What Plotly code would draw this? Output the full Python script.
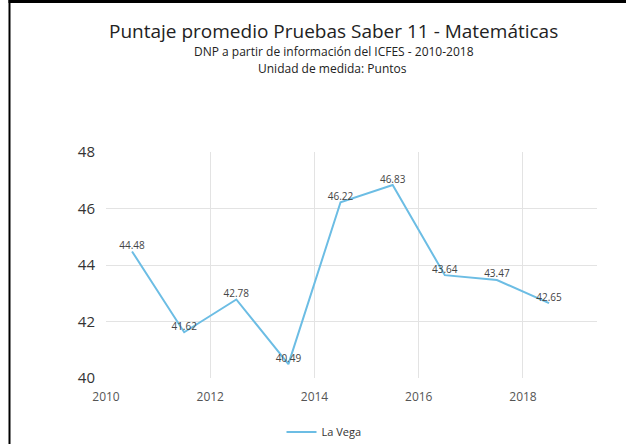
import plotly.graph_objects as go

years = [2010.5, 2011.5, 2012.5, 2013.5, 2014.5, 2015.5, 2016.5, 2017.5, 2018.5]
values = [44.48, 41.62, 42.78, 40.49, 46.22, 46.83, 43.64, 43.47, 42.65]
labels = ["44.48", "41.62", "42.78", "40.49", "46.22", "46.83", "43.64", "43.47", "42.65"]
series_name = "La Vega"
x_ticks = [2010, 2012, 2014, 2016, 2018]
y_ticks = [40, 42, 44, 46, 48]

W, H = 626, 444
L, R, T, B = 106, 597, 152, 378

def px(x):
    return (x - L) / (R - L)

def py(y):
    return (B - y) / (B - T)

fig = go.Figure()
fig.add_trace(go.Scatter(
    x=years, y=values, mode="lines+text", name=series_name,
    text=labels, textposition="top center",
    textfont=dict(size=10, color="#444444", family="Open Sans"),
    line=dict(color="#6cbde4", width=2),
))

fig.update_layout(
    width=W, height=H,
    margin=dict(l=L, r=W - R, t=T, b=H - B, autoexpand=False),
    paper_bgcolor="white", plot_bgcolor="white",
    font=dict(family="Open Sans", color="#333333"),
    showlegend=True,
    legend=dict(orientation="h", xref="container", yref="container",
                x=324 / W, xanchor="center", y=1 - 432 / H, yanchor="middle",
                itemwidth=30, font=dict(size=11, color="#333333")),
    xaxis=dict(range=[2010, 2019.42], tickvals=x_ticks, showgrid=True, gridcolor="#e3e3e3",
               zeroline=False, showline=False, tickfont=dict(size=12, color="#555555"),
               ticks="outside", ticklen=8, tickcolor="rgba(0,0,0,0)"),
    yaxis=dict(range=[40, 48], tickvals=y_ticks, showgrid=True, gridcolor="#e3e3e3",
               zeroline=False, showline=False, tickfont=dict(size=15, color="#333333"),
               ticks="outside", ticklen=7, tickcolor="rgba(0,0,0,0)"),
    annotations=[
        dict(text="Puntaje promedio Pruebas Saber 11 - Matemáticas", xref="paper", yref="paper",
             x=px(333), y=py(31), xanchor="center", yanchor="middle", showarrow=False,
             font=dict(size=19, color="#222222")),
        dict(text="DNP a partir de información del ICFES - 2010-2018", xref="paper", yref="paper",
             x=px(334), y=py(51.5), xanchor="center", yanchor="middle", showarrow=False,
             font=dict(size=12, color="#222222")),
        dict(text="Unidad de medida: Puntos", xref="paper", yref="paper",
             x=px(332), y=py(68), xanchor="center", yanchor="middle", showarrow=False,
             font=dict(size=12, color="#222222")),
    ],
    shapes=[
        dict(type="rect", xref="paper", yref="paper", x0=px(8.5), x1=px(10.5), y0=py(0), y1=py(444),
             fillcolor="black", line=dict(width=0), layer="above"),
        dict(type="rect", xref="paper", yref="paper", x0=px(8.5), x1=px(626), y0=py(-2), y1=py(3),
             fillcolor="black", line=dict(width=0), layer="above"),
    ],
)

fig.write_html("out.html", config={"displayModeBar": False},
               post_script="document.body.style.margin='0px';document.body.style.overflow='hidden';")
